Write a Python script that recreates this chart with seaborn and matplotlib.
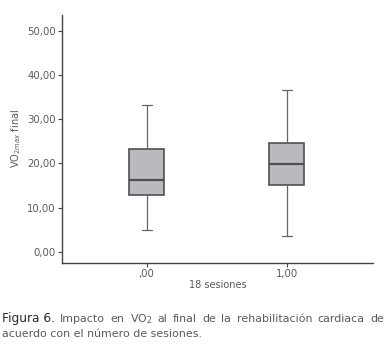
import numpy as np
import pandas as pd
import matplotlib
matplotlib.use("Agg")
import matplotlib.pyplot as plt
import seaborn as sns

# Data (min, Q1, median, Q3, max per group)
categories = [",00", "1,00"]
group_00 = [4.8, 12.8, 16.2, 23.3, 33.2]
group_100 = [3.6, 15.1, 19.9, 24.6, 36.6]
yticks = [0, 10, 20, 30, 40, 50]
ytick_labels = ["0,00", "10,00", "20,00", "30,00", "40,00", "50,00"]

df = pd.DataFrame({
    "grupo": [categories[0]] * len(group_00) + [categories[1]] * len(group_100),
    "vo2": group_00 + group_100,
})

sns.set_style("white")
plt.rcParams["font.family"] = ["DejaVu Sans"]

fig = plt.figure(figsize=(3.88, 3.49), dpi=100)
ax = fig.add_axes([62/388, 1 - 262.7/349, (373-62)/388, (262.7-15)/349])

txt = "#5a5a5a"
line = "#666666"
sns.boxplot(data=df, x="grupo", y="vo2", order=categories, ax=ax,
            whis=(0, 100), width=0.25, color="#b9b9bf", saturation=1,
            linecolor=line, linewidth=0.9,
            boxprops=dict(edgecolor="#505050", linewidth=1.2),
            medianprops=dict(color="#505050", linewidth=1.6),
            capwidths=0.07)

ax.set_xlim(-0.605, 1.617)
ax.set_ylim(-2.5, 53.6)
ax.set_yticks(yticks)
ax.set_yticklabels(ytick_labels)
for s in ["top", "right"]:
    ax.spines[s].set_visible(False)
for s in ["left", "bottom"]:
    ax.spines[s].set_color("#444444")
    ax.spines[s].set_linewidth(1.0)
ax.tick_params(axis="both", which="both", direction="out", length=3, width=0.8,
               color="#444444", labelsize=7.3, labelcolor=txt, pad=1.5,
               left=True, bottom=True)
ax.set_xlabel("18 sesiones", fontsize=7, color=txt, labelpad=1)
ax.set_ylabel(r"VO$_{2max}$ final", fontsize=7, color=txt)
ax.yaxis.set_label_coords((23 - 62) / 311, 0.5)

# Caption
fig.canvas.draw()
r = fig.canvas.get_renderer()
y1 = 1 - 322/349
t1 = fig.text(2/388, y1, "Figura 6.", fontsize=8.7, color="#2a2a2a",
              ha="left", va="baseline")
bb = t1.get_window_extent(renderer=r)
words = ["Impacto", "en", r"VO$_2$", "al", "final", "de", "la",
         "rehabilitación", "cardiaca", "de"]
fs = 7.9
start = bb.x1 + 5
end = 384
objs = [fig.text(0, y1, w_, fontsize=fs, color=txt, ha="left", va="baseline")
        for w_ in words]
widths = [o.get_window_extent(renderer=r).width for o in objs]
gap = (end - start - sum(widths)) / (len(words) - 1)
x = start
for o, w_ in zip(objs, widths):
    o.set_x(x / 388)
    x += w_ + gap
fig.text(2/388, 1 - 337/349, "acuerdo con el número de sesiones.",
         fontsize=fs, color=txt, ha="left", va="baseline")

fig.savefig("out.png", dpi=100)
